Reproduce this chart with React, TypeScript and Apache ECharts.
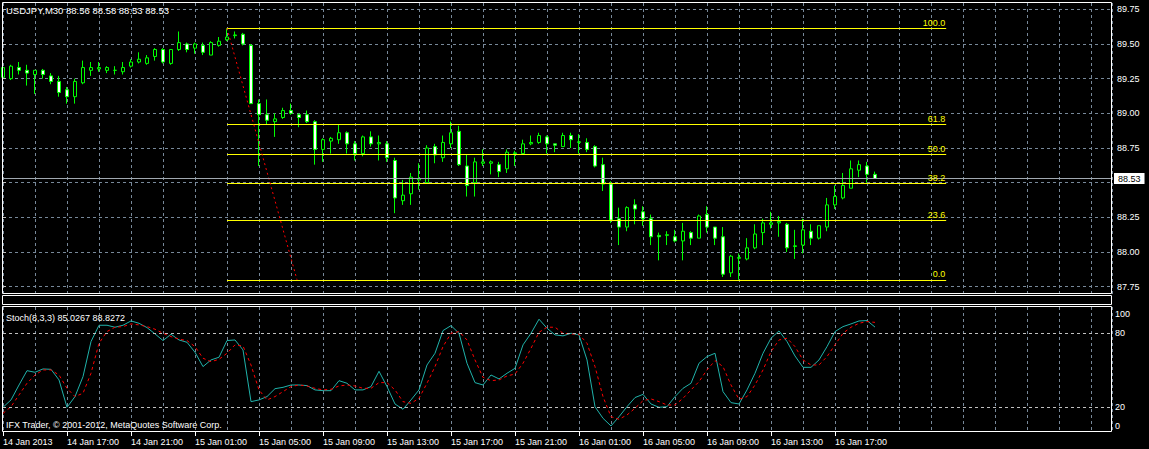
import React, { useEffect, useRef } from 'react';
import * as echarts from 'echarts';

const symbolName = 'USDJPY,M30';
const stochName = 'Stoch(8,3,3)';
const copyright = 'IFX Trader, \u00A9 2001-2012, MetaQuotes Software Corp.';

// one label every 8 bars (4 hours of M30 bars)
const tickLabels = [
  '14 Jan 2013', '14 Jan 17:00', '14 Jan 21:00', '15 Jan 01:00', '15 Jan 05:00',
  '15 Jan 09:00', '15 Jan 13:00', '15 Jan 17:00', '15 Jan 21:00', '16 Jan 01:00',
  '16 Jan 05:00', '16 Jan 09:00', '16 Jan 13:00', '16 Jan 17:00',
];

const opens = [
  89.26, 89.25, 89.33, 89.31, 89.28, 89.31, 89.27, 89.23, 89.17, 89.12,
  89.22, 89.31, 89.32, 89.31, 89.31, 89.30, 89.34, 89.37, 89.36, 89.41,
  89.46, 89.36, 89.46, 89.50, 89.47, 89.49, 89.42, 89.49, 89.53, 89.56,
  89.57, 89.49, 89.07, 88.99, 88.94, 88.97, 89.02, 88.99, 88.99, 88.94,
  88.74, 88.80, 88.81, 88.86, 88.78, 88.71, 88.83, 88.78, 88.78, 88.66,
  88.37, 88.42, 88.52, 88.50, 88.76, 88.68, 88.78, 88.87, 88.62, 88.50,
  88.64, 88.64, 88.63, 88.60, 88.71, 88.71, 88.78, 88.79, 88.83, 88.78,
  88.76, 88.84, 88.79, 88.79, 88.76, 88.63, 88.49, 88.24, 88.18, 88.34,
  88.29, 88.24, 88.12, 88.12, 88.11, 88.08, 88.14, 88.10, 88.27, 88.18,
  88.11, 87.85, 87.955, 87.95, 88.03, 88.14, 88.20, 88.21, 88.20, 88.04,
  88.05, 88.15, 88.10, 88.18, 88.34, 88.39, 88.46, 88.59, 88.62, 88.56,
];
const closes = [
  89.33, 89.34, 89.31, 89.29, 89.31, 89.28, 89.23, 89.15, 89.12, 89.23,
  89.33, 89.33, 89.33, 89.33, 89.31, 89.33, 89.37, 89.39, 89.40, 89.46,
  89.37, 89.46, 89.51, 89.46, 89.50, 89.44, 89.51, 89.52, 89.55, 89.565,
  89.50, 89.07, 88.99, 88.95, 88.96, 89.02, 89.00, 88.97, 88.94, 88.74,
  88.81, 88.82, 88.86, 88.78, 88.71, 88.83, 88.78, 88.79, 88.68, 88.39,
  88.41, 88.54, 88.53, 88.75, 88.70, 88.79, 88.86, 88.63, 88.48, 88.65,
  88.65, 88.65, 88.58, 88.72, 88.715, 88.78, 88.79, 88.84, 88.78, 88.77,
  88.84, 88.81, 88.795, 88.74, 88.62, 88.49, 88.23, 88.18, 88.32, 88.31,
  88.24, 88.11, 88.11, 88.125, 88.08, 88.15, 88.10, 88.26, 88.18, 88.10,
  87.84, 87.97, 87.96, 88.03, 88.13, 88.21, 88.21, 88.22, 88.03, 88.045,
  88.16, 88.10, 88.19, 88.34, 88.40, 88.48, 88.60, 88.63, 88.56, 88.53,
];
const lows = [
  89.25, 89.24, 89.28, 89.20, 89.14, 89.25, 89.21, 89.12, 89.07, 89.07,
  89.21, 89.27, 89.30, 89.29, 89.28, 89.28, 89.33, 89.36, 89.35, 89.38,
  89.36, 89.35, 89.45, 89.44, 89.43, 89.42, 89.42, 89.48, 89.52, 89.54,
  89.49, 89.07, 88.62, 88.92, 88.83, 88.96, 88.99, 88.90, 88.93, 88.63,
  88.65, 88.71, 88.78, 88.71, 88.66, 88.69, 88.76, 88.66, 88.65, 88.28,
  88.34, 88.34, 88.45, 88.50, 88.64, 88.65, 88.75, 88.62, 88.40, 88.40,
  88.62, 88.56, 88.54, 88.57, 88.62, 88.70, 88.77, 88.78, 88.71, 88.72,
  88.76, 88.75, 88.71, 88.72, 88.61, 88.44, 88.21, 88.05, 88.15, 88.20,
  88.19, 88.05, 87.94, 88.05, 88.07, 87.94, 88.05, 88.10, 88.14, 88.05,
  87.82, 87.82, 87.80, 87.94, 88.02, 88.05, 88.17, 88.11, 88.00, 87.95,
  87.99, 88.05, 88.09, 88.15, 88.31, 88.38, 88.46, 88.54, 88.50, 88.53,
];
const highs = [
  89.34, 89.35, 89.37, 89.35, 89.31, 89.32, 89.29, 89.27, 89.19, 89.25,
  89.38, 89.37, 89.37, 89.34, 89.34, 89.37, 89.39, 89.44, 89.42, 89.47,
  89.47, 89.46, 89.59, 89.51, 89.51, 89.51, 89.52, 89.55, 89.613, 89.59,
  89.58, 89.50, 89.10, 89.10, 89.00, 89.04, 89.07, 89.00, 89.02, 88.95,
  88.82, 88.83, 88.92, 88.87, 88.80, 88.84, 88.87, 88.84, 88.80, 88.68,
  88.52, 88.57, 88.64, 88.77, 88.78, 88.84, 88.94, 88.91, 88.70, 88.68,
  88.74, 88.66, 88.65, 88.74, 88.73, 88.81, 88.84, 88.86, 88.84, 88.78,
  88.86, 88.86, 88.85, 88.82, 88.77, 88.68, 88.51, 88.32, 88.33, 88.38,
  88.33, 88.27, 88.14, 88.15, 88.16, 88.21, 88.15, 88.27, 88.33, 88.18,
  88.18, 87.98, 87.99, 88.10, 88.20, 88.24, 88.29, 88.26, 88.21, 88.16,
  88.24, 88.20, 88.19, 88.39, 88.48, 88.57, 88.66, 88.66, 88.65, 88.58,
];

const stochK = [
  20, 26, 38.1, 49.7, 48.4, 51.1, 50.8, 42.2, 20, 28.7,
  44.9, 73.3, 86.5, 86.5, 84.9, 86.5, 90, 88.1, 84.6, 79.5,
  74.1, 79.2, 74.6, 72.7, 64.6, 53, 58.4, 60.6, 74.1, 74.6,
  66.5, 24.6, 26, 28.7, 35.1, 36.2, 38.1, 38.1, 37.6, 34.1,
  33.5, 33.5, 41.6, 39.5, 34.1, 34.1, 36.8, 49.2, 36.8, 22.7,
  18.4, 26, 34.1, 54.3, 63.8, 82.2, 86.2, 80, 55.7, 40,
  38.1, 46.2, 43, 47.6, 51.6, 70.6, 80, 91.4, 84.1, 78.7,
  77.9, 80, 78.7, 58.4, 20.5, 11.1, 4.9, 12.4, 20.5, 27.9,
  30.5, 22.7, 20, 20.5, 28.7, 35.4, 39.5, 55.7, 61.1, 63.8,
  32.7, 23.8, 22.7, 34.1, 47.6, 63.8, 76, 81.9, 73.3, 61.6,
  52.4, 52.4, 58.4, 69.2, 81.4, 85.4, 87.6, 90, 90.3, 85.0267,
];
const stochD = [
  15.1, 20.5, 30, 39.5, 46.2, 50.3, 50.3, 46.2, 35.4, 28.7,
  31.4, 47.6, 71.9, 81.4, 84.9, 85.4, 87.6, 86.8, 85.4, 83.3,
  80, 77.3, 75.2, 74.1, 69.2, 59.8, 57, 58.9, 63.8, 70.6,
  69.7, 54.3, 34.1, 26, 28.7, 32.7, 36.8, 38.1, 37.3, 35.4,
  34.1, 34.6, 37.3, 38.1, 37.3, 35.4, 35.4, 40, 40, 34.1,
  24.6, 23.2, 27.3, 39.5, 53, 69.2, 80, 81.4, 74.6, 58.4,
  44.3, 41.6, 42.2, 45.4, 47, 55.7, 67.8, 80.8, 84.9, 84.9,
  80, 79.5, 79.2, 71.9, 53, 28.7, 12.4, 10.3, 13.8, 19.2,
  25.4, 26.8, 24.6, 21.9, 21.9, 27.3, 34.1, 40.8, 50.3, 57.8,
  53, 38.1, 26.5, 28.7, 38.1, 50.3, 65.1, 74.6, 76, 69.2,
  58.4, 54.3, 54.3, 61.1, 70.6, 80, 84.9, 88.1, 89.5, 88.8272,
];

const fibRatios = [0, 23.6, 38.2, 50, 61.8, 100];
const fibHigh = 89.613;
const fibLow = 87.8;
const fibStartBar = 28;
const fibEndBar = 117.9;
const trendEndBar = 36.75;

const priceMin = 87.75;
const priceMax = 89.75;
const priceStep = 0.25;
const stochLabels = [0, 20, 80, 100];
const stochLevels = [80, 20];

const X_MAX = 138.625; // visible bar slots
const FONT = '"Liberation Sans", Arial, sans-serif';
const GRID_COLOR = '#778899';

export default function App() {
  const ref = useRef<HTMLDivElement>(null);

  useEffect(() => {
    document.body.style.margin = '0';
    document.body.style.background = '#000';
    const chart = echarts.init(ref.current!, undefined, { renderer: 'svg' });
    const n = opens.length;
    const last = n - 1;
    const candles = opens.map((o, i) => [i, o, closes[i], lows[i], highs[i]]);
    const fibLines = fibRatios.map((r) => {
      const lvl = fibLow + (fibHigh - fibLow) * (r / 100);
      return [
        {
          coord: [fibStartBar, lvl],
          lineStyle: { color: '#ffff00', type: 'solid', width: 1 },
          label: {
            show: true, position: 'insideEndTop', formatter: r.toFixed(1),
            color: '#ffff00', fontSize: 9, fontFamily: FONT, distance: 1,
          },
        },
        { coord: [fibEndBar, lvl] },
      ];
    });
    const title = `${symbolName} ${opens[last].toFixed(2)} ${highs[last].toFixed(2)} ${lows[last].toFixed(2)} ${closes[last].toFixed(2)}`;
    const stochTitle = `${stochName} ${stochK[last].toFixed(4)} ${stochD[last].toFixed(4)}`;
    const bottomTicks = tickLabels.map((_, k) => k * 8);
    const lastClose = closes[last];

    const option: any = {
      animation: false,
      backgroundColor: '#000',
      textStyle: { fontFamily: FONT },
      grid: [
        { left: 3, right: 37, top: 3, bottom: 155 },
        { left: 3, right: 37, top: 9.3, bottom: 162.3 },
        { left: 3, right: 37, top: 307, bottom: 17 },
        { left: 3, right: 37, top: 308.6, bottom: 17 },
      ],
      xAxis: [
        {
          gridIndex: 0, type: 'value', min: 0, max: X_MAX, interval: 4,
          axisLine: { show: false }, axisTick: { show: false }, axisLabel: { show: false },
          splitLine: { show: true, lineStyle: { color: GRID_COLOR, type: [3, 3], width: 1 } },
        },
        { gridIndex: 1, type: 'value', min: 0, max: X_MAX, show: false },
        {
          gridIndex: 2, type: 'value', min: 0, max: X_MAX, interval: 4,
          axisLine: { show: false }, axisTick: { show: false }, axisLabel: { show: false },
          splitLine: { show: true, lineStyle: { color: GRID_COLOR, type: [3, 3], width: 1 } },
        },
        {
          gridIndex: 3, type: 'value', min: 0, max: X_MAX, interval: 8,
          axisLine: { show: false },
          axisTick: { show: true, length: 4, customValues: bottomTicks, lineStyle: { color: '#fff' } },
          axisLabel: {
            show: true, customValues: bottomTicks, align: 'left', margin: 5,
            color: '#fff', fontSize: 9, fontFamily: FONT,
            formatter: (v: number) => {
              const k = v / 8;
              return Number.isInteger(k) && tickLabels[k] ? tickLabels[k] : '';
            },
          },
          splitLine: { show: false },
        },
      ],
      yAxis: [
        { gridIndex: 0, type: 'value', min: 0, max: 1, show: false },
        {
          gridIndex: 1, type: 'value', position: 'right', min: priceMin, max: priceMax, interval: priceStep,
          axisLine: { show: false },
          axisTick: { show: true, length: 3, lineStyle: { color: '#c0c0c0' } },
          axisLabel: {
            color: '#fff', fontSize: 9, fontFamily: FONT, margin: 5,
            // the tick label lying under the bid-price box is hidden by that box in the original
            formatter: (v: number) => (Math.abs(v - lastClose) < 0.05 ? '' : v.toFixed(2)),
          },
          splitLine: { show: true, lineStyle: { color: GRID_COLOR, type: [3, 3], width: 1 } },
        },
        { gridIndex: 2, type: 'value', min: 0, max: 1, show: false },
        {
          gridIndex: 3, type: 'value', position: 'right', min: 0, max: 100, interval: 20,
          axisLine: { show: false }, axisTick: { show: false }, splitLine: { show: false },
          axisLabel: {
            color: '#fff', fontSize: 9, fontFamily: FONT, margin: 3,
            formatter: (v: number) => {
              if (!stochLabels.includes(v)) return '';
              if (v === 100) return '{t|100}';
              if (v === 0) return '{b|0}';
              return String(v);
            },
            rich: {
              t: { color: '#fff', fontSize: 9, fontFamily: FONT, padding: [11, 0, 0, 0] },
              b: { color: '#fff', fontSize: 9, fontFamily: FONT, padding: [0, 0, 13, 0] },
            },
          },
        },
      ],
      series: [
        {
          type: 'candlestick', xAxisIndex: 1, yAxisIndex: 1, data: candles,
          encode: { x: 0, y: [1, 2, 3, 4] }, barWidth: 4, clip: true,
          itemStyle: {
            color: '#000', color0: '#fff', borderColor: '#00ff00', borderColor0: '#00ff00',
            borderColorDoji: '#00ff00', borderWidth: 1,
          },
          markLine: {
            silent: true, symbol: ['none', 'none'], animation: false,
            label: { show: false },
            data: [
              ...fibLines,
              [
                { coord: [fibStartBar, fibHigh], lineStyle: { color: '#ff0000', type: [2, 3], width: 1 } },
                { coord: [trendEndBar, fibLow] },
              ],
              {
                yAxis: lastClose,
                lineStyle: { color: '#a0a8b0', type: 'solid', width: 1 },
                label: {
                  show: true, position: 'end', formatter: lastClose.toFixed(2), distance: 2,
                  backgroundColor: '#fff', color: '#000', fontSize: 9, fontFamily: FONT,
                  padding: [1, 4, 1, 4], lineHeight: 9,
                },
              },
            ],
          },
        },
        {
          type: 'line', xAxisIndex: 3, yAxisIndex: 3, data: stochK.map((v, i) => [i, v]),
          showSymbol: false, symbol: 'none', lineStyle: { color: '#20b2aa', width: 1 },
          markLine: {
            silent: true, symbol: ['none', 'none'], label: { show: false },
            lineStyle: { color: '#c0c0c0', type: [3, 3], width: 1 },
            data: stochLevels.map((l) => ({ yAxis: l })),
          },
        },
        {
          type: 'line', xAxisIndex: 3, yAxisIndex: 3, data: stochD.map((v, i) => [i, v]),
          showSymbol: false, symbol: 'none', lineStyle: { color: '#ff0000', width: 1, type: [3, 3] },
        },
      ],
      graphic: [
        { type: 'rect', z: 100, silent: true, shape: { x: 2.5, y: 2.5, width: 1109, height: 291 }, style: { fill: 'none', stroke: '#fff', lineWidth: 1 } },
        { type: 'rect', z: 100, silent: true, shape: { x: 2.5, y: 295.5, width: 1109, height: 9 }, style: { fill: 'none', stroke: '#fff', lineWidth: 1 } },
        { type: 'rect', z: 100, silent: true, shape: { x: 2.5, y: 306.5, width: 1109, height: 125 }, style: { fill: 'none', stroke: '#fff', lineWidth: 1 } },
        { type: 'text', z: 101, silent: true, x: 6, y: 10.5, style: { text: title, fill: '#fff', font: `9.5px ${FONT}`, textVerticalAlign: 'middle' } },
        { type: 'text', z: 101, silent: true, x: 6, y: 317.5, style: { text: stochTitle, fill: '#fff', font: `9px ${FONT}`, textVerticalAlign: 'middle' } },
        { type: 'text', z: 101, silent: true, x: 6, y: 424.5, style: { text: copyright, fill: '#fff', font: `9px ${FONT}`, textVerticalAlign: 'middle' } },
      ],
    };
    chart.setOption(option);
    return () => chart.dispose();
  }, []);

  return (
    <div
      ref={ref}
      style={{ position: 'fixed', left: 0, top: 0, width: 1149, height: 449, background: '#000' }}
    />
  );
}
